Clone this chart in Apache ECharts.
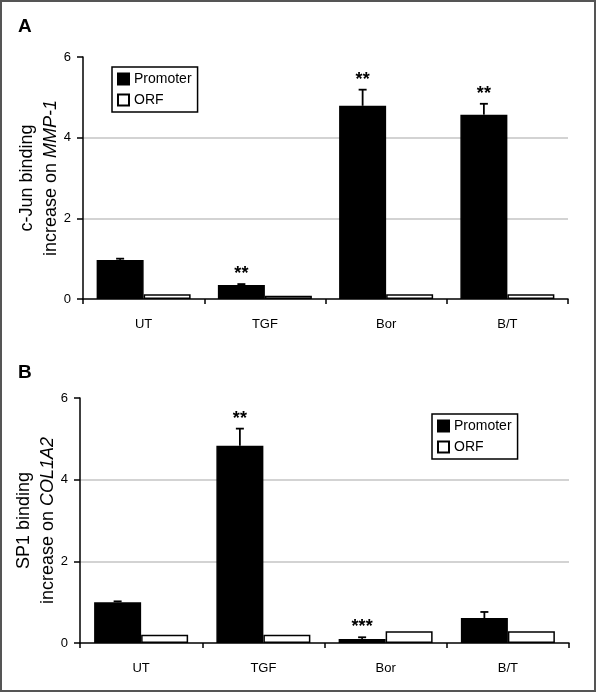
<!DOCTYPE html>
<html><head><meta charset="utf-8">
<script src="https://cdn.jsdelivr.net/npm/echarts@6/dist/echarts.min.js"></script>
<style>html,body{margin:0;padding:0;background:#fff}#c{width:600px;height:695px}</style>
</head><body><div id="c"></div>
<script>
const categories = ['UT', 'TGF', 'Bor', 'B/T'];
const yTicks = [0, 2, 4, 6];
// Panel A: c-Jun binding on MMP-1
const promoterA = [0.97, 0.35, 4.79, 4.57];
const promoterErrTopA = [1.0, 0.37, 5.19, 4.84];
const orfA = [0.12, 0.08, 0.12, 0.12];
const starsA = ['', '**', '**', '**'];
// Panel B: SP1 binding on COL1A2
const promoterB = [1.0, 4.83, 0.1, 0.61];
const promoterErrTopB = [1.02, 5.25, 0.14, 0.76];
const orfB = [0.2, 0.2, 0.29, 0.29];
const starsB = ['', '**', '***', ''];

const FONT = 'Liberation Sans, Arial, sans-serif';
const BARW = 47;

function errSeries(vals, tops, stars, idx) {
  return {
    type: 'custom', xAxisIndex: idx, yAxisIndex: idx, z: 5, silent: true,
    data: vals.map((v, i) => [i, v, tops[i]]),
    renderItem: function (params, api) {
      const i = api.value(0), v = api.value(1), t = api.value(2);
      const p = api.coord([i, v]);
      const q = api.coord([i, t]);
      const x = p[0] - BARW / 2;
      const ch = [];
      if (t > v) {
        ch.push({ type: 'line', shape: { x1: x, y1: p[1], x2: x, y2: q[1] }, style: { stroke: '#000', lineWidth: 1.8 } });
        ch.push({ type: 'line', shape: { x1: x - 4, y1: q[1], x2: x + 4, y2: q[1] }, style: { stroke: '#000', lineWidth: 1.8 } });
      }
      const s = stars[i];
      if (s) {
        ch.push({ type: 'text', x: x, y: q[1] - 1, style: { text: s, fill: '#000', font: 'bold 18px ' + FONT, align: 'center', verticalAlign: 'bottom' } });
      }
      return { type: 'group', children: ch };
    }
  };
}

function xAx(idx) {
  return {
    type: 'category', gridIndex: idx, data: categories, boundaryGap: true,
    axisLine: { lineStyle: { color: '#000', width: 1.5 } },
    axisTick: { show: true, inside: false, length: 5, lineStyle: { color: '#000', width: 1.5 } },
    axisLabel: { color: '#000', fontSize: 13, fontFamily: FONT, margin: 19 },
    splitLine: { show: false }
  };
}
function yAx(idx, l1, l2a, l2b) {
  return {
    type: 'value', gridIndex: idx, min: yTicks[0], max: yTicks[yTicks.length - 1], interval: 2,
    axisLine: { show: true, lineStyle: { color: '#000', width: 1.5 } },
    axisTick: { show: true, length: 6, lineStyle: { color: '#000', width: 1.5 } },
    axisLabel: { color: '#000', fontSize: 13, fontFamily: FONT, margin: 12 },
    splitLine: { show: true, lineStyle: { color: ['rgba(0,0,0,0)', '#c4c4c4', '#c4c4c4', 'rgba(0,0,0,0)'], width: 1.5 } },
    name: '{n|' + l1 + '}\n{n|' + l2a + '}{i|' + l2b + '}',
    nameLocation: 'middle', nameRotate: 90, nameGap: 20, nameMoveOverlap: false,
    nameTextStyle: {
      rich: {
        n: { fontSize: 18, fontFamily: FONT, color: '#000', lineHeight: 24 },
        i: { fontSize: 18, fontFamily: FONT, color: '#000', fontStyle: 'italic', lineHeight: 24 }
      }
    }
  };
}
function legendAt(left, top) {
  return {
    left: left, top: top, orient: 'vertical', data: ['Promoter', 'ORF'],
    icon: 'rect', itemWidth: 11, itemHeight: 11, itemGap: 7,
    borderColor: '#000', borderWidth: 1.5, borderRadius: 0, padding: [5, 6, 5, 5],
    textStyle: { fontSize: 14, fontFamily: FONT, color: '#000', padding: [0, 0, 0, 0] },
    selectedMode: false
  };
}
function bars(name, vals, idx, fill) {
  return {
    type: 'bar', name: name, xAxisIndex: idx, yAxisIndex: idx, data: vals,
    barWidth: BARW, barGap: '0%',
    itemStyle: { color: fill, borderColor: '#000', borderWidth: 1.5 },
    emphasis: { disabled: true }, animation: false
  };
}

const chart = echarts.init(document.getElementById('c'), null, { renderer: 'canvas' });
chart.setOption({
  animation: false,
  backgroundColor: '#fff',
  title: [
    { text: 'A', left: 13, top: 12, textStyle: { fontSize: 19, fontWeight: 'bold', fontFamily: FONT, color: '#000' } },
    { text: 'B', left: 13, top: 358, textStyle: { fontSize: 19, fontWeight: 'bold', fontFamily: FONT, color: '#000' } }
  ],
  grid: [
    { left: 83, right: 32, top: 57, height: 242 },
    { left: 80, right: 31, top: 398, height: 245 }
  ],
  xAxis: [xAx(0), xAx(1)],
  yAxis: [yAx(0, 'c-Jun binding', 'increase on ', 'MMP-1'), yAx(1, 'SP1 binding', 'increase on ', 'COL1A2')],
  legend: [legendAt(112, 67), legendAt(432, 414)],
  series: [
    bars('Promoter', promoterA, 0, '#000'),
    bars('ORF', orfA, 0, '#fff'),
    errSeries(promoterA, promoterErrTopA, starsA, 0),
    bars('Promoter', promoterB, 1, '#000'),
    bars('ORF', orfB, 1, '#fff'),
    errSeries(promoterB, promoterErrTopB, starsB, 1)
  ],
  graphic: [
    { type: 'rect', shape: { x: 1, y: 1, width: 594, height: 690 }, style: { fill: 'none', stroke: '#555', lineWidth: 2 }, silent: true }
  ]
});
</script></body></html>
